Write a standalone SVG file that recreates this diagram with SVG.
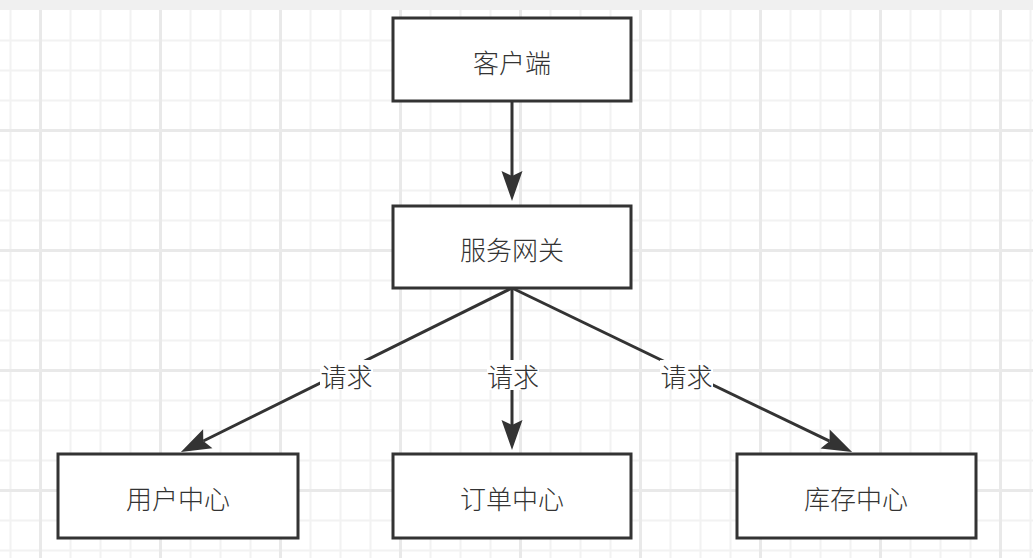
<svg xmlns="http://www.w3.org/2000/svg" width="1033" height="558" viewBox="0 0 1033 558">
  <defs>
    <style>
      .minor { stroke: #f2f2f2; stroke-width: 2; }
      .major { stroke: #e9e9e9; stroke-width: 3; }
      .box { fill: #ffffff; stroke: #333333; stroke-width: 3; }
      .lbl { font-family: "Noto Sans CJK SC", "Noto Sans", sans-serif; font-size: 26px; font-weight: 300; fill: #333333; text-anchor: middle; dominant-baseline: central; }
      .edge { fill: none; stroke: #333333; stroke-width: 3; }
      .elbl-bg { fill: #ffffff; }
    </style>
    <marker id="arrow" markerUnits="userSpaceOnUse" markerWidth="32" markerHeight="22" refX="5" refY="10.5" orient="auto" overflow="visible">
      <path d="M0,0 L30,10.5 L0,21 L5,10.5 Z" fill="#333333"/>
    </marker>
  </defs>

  <g id="grid">
    <rect x="0" y="0" width="1033" height="558" fill="#ffffff"/>
    <g class="minor">
      <line x1="10.5" y1="0" x2="10.5" y2="558"/>
      <line x1="70.5" y1="0" x2="70.5" y2="558"/>
      <line x1="100.5" y1="0" x2="100.5" y2="558"/>
      <line x1="130.5" y1="0" x2="130.5" y2="558"/>
      <line x1="190.5" y1="0" x2="190.5" y2="558"/>
      <line x1="220.5" y1="0" x2="220.5" y2="558"/>
      <line x1="250.5" y1="0" x2="250.5" y2="558"/>
      <line x1="310.5" y1="0" x2="310.5" y2="558"/>
      <line x1="340.5" y1="0" x2="340.5" y2="558"/>
      <line x1="370.5" y1="0" x2="370.5" y2="558"/>
      <line x1="430.5" y1="0" x2="430.5" y2="558"/>
      <line x1="460.5" y1="0" x2="460.5" y2="558"/>
      <line x1="490.5" y1="0" x2="490.5" y2="558"/>
      <line x1="550.5" y1="0" x2="550.5" y2="558"/>
      <line x1="580.5" y1="0" x2="580.5" y2="558"/>
      <line x1="610.5" y1="0" x2="610.5" y2="558"/>
      <line x1="670.5" y1="0" x2="670.5" y2="558"/>
      <line x1="700.5" y1="0" x2="700.5" y2="558"/>
      <line x1="730.5" y1="0" x2="730.5" y2="558"/>
      <line x1="790.5" y1="0" x2="790.5" y2="558"/>
      <line x1="820.5" y1="0" x2="820.5" y2="558"/>
      <line x1="850.5" y1="0" x2="850.5" y2="558"/>
      <line x1="910.5" y1="0" x2="910.5" y2="558"/>
      <line x1="940.5" y1="0" x2="940.5" y2="558"/>
      <line x1="970.5" y1="0" x2="970.5" y2="558"/>
      <line x1="1030.5" y1="0" x2="1030.5" y2="558"/>
      <line x1="0" y1="40.5" x2="1033" y2="40.5"/>
      <line x1="0" y1="70.5" x2="1033" y2="70.5"/>
      <line x1="0" y1="100.5" x2="1033" y2="100.5"/>
      <line x1="0" y1="160.5" x2="1033" y2="160.5"/>
      <line x1="0" y1="190.5" x2="1033" y2="190.5"/>
      <line x1="0" y1="220.5" x2="1033" y2="220.5"/>
      <line x1="0" y1="280.5" x2="1033" y2="280.5"/>
      <line x1="0" y1="310.5" x2="1033" y2="310.5"/>
      <line x1="0" y1="340.5" x2="1033" y2="340.5"/>
      <line x1="0" y1="400.5" x2="1033" y2="400.5"/>
      <line x1="0" y1="430.5" x2="1033" y2="430.5"/>
      <line x1="0" y1="460.5" x2="1033" y2="460.5"/>
      <line x1="0" y1="520.5" x2="1033" y2="520.5"/>
      <line x1="0" y1="550.5" x2="1033" y2="550.5"/>
    </g>
    <g class="major">
      <line x1="40.5" y1="0" x2="40.5" y2="558"/>
      <line x1="160.5" y1="0" x2="160.5" y2="558"/>
      <line x1="280.5" y1="0" x2="280.5" y2="558"/>
      <line x1="400.5" y1="0" x2="400.5" y2="558"/>
      <line x1="520.5" y1="0" x2="520.5" y2="558"/>
      <line x1="640.5" y1="0" x2="640.5" y2="558"/>
      <line x1="760.5" y1="0" x2="760.5" y2="558"/>
      <line x1="880.5" y1="0" x2="880.5" y2="558"/>
      <line x1="1000.5" y1="0" x2="1000.5" y2="558"/>
      <line x1="0" y1="130.5" x2="1033" y2="130.5"/>
      <line x1="0" y1="250.5" x2="1033" y2="250.5"/>
      <line x1="0" y1="370.5" x2="1033" y2="370.5"/>
      <line x1="0" y1="490.5" x2="1033" y2="490.5"/>
    </g>
    <rect x="0" y="0" width="1033" height="10" fill="#f0f0f0"/>
  </g>

  <g id="connectors">
    <line class="edge" x1="512" y1="101" x2="512" y2="176" marker-end="url(#arrow)"/>
    <line class="edge" x1="512" y1="288" x2="203.3" y2="441" marker-end="url(#arrow)"/>
    <line class="edge" x1="512" y1="288" x2="512" y2="425" marker-end="url(#arrow)"/>
    <line class="edge" x1="512" y1="288" x2="829.6" y2="441.2" marker-end="url(#arrow)"/>
    <g id="edge-labels">
      <rect class="elbl-bg" x="320" y="360" width="53" height="30"/>
      <text class="lbl" x="346.5" y="375">请求</text>
      <rect class="elbl-bg" x="487" y="360" width="52" height="30"/>
      <text class="lbl" x="513" y="375">请求</text>
      <rect class="elbl-bg" x="660" y="360" width="53" height="30"/>
      <text class="lbl" x="686.5" y="375">请求</text>
    </g>
  </g>

  <g id="client">
    <rect class="box" x="393" y="18" width="238" height="83"/>
    <text class="lbl" x="512" y="61">客户端</text>
  </g>
  <g id="gateway">
    <rect class="box" x="393" y="206" width="238" height="82"/>
    <text class="lbl" x="512" y="248">服务网关</text>
  </g>
  <g id="user-center">
    <rect class="box" x="58" y="454" width="240" height="84"/>
    <text class="lbl" x="178" y="497">用户中心</text>
  </g>
  <g id="order-center">
    <rect class="box" x="393" y="454" width="238" height="84"/>
    <text class="lbl" x="512" y="497">订单中心</text>
  </g>
  <g id="stock-center">
    <rect class="box" x="737" y="454" width="239" height="84"/>
    <text class="lbl" x="856" y="497">库存中心</text>
  </g>
</svg>
